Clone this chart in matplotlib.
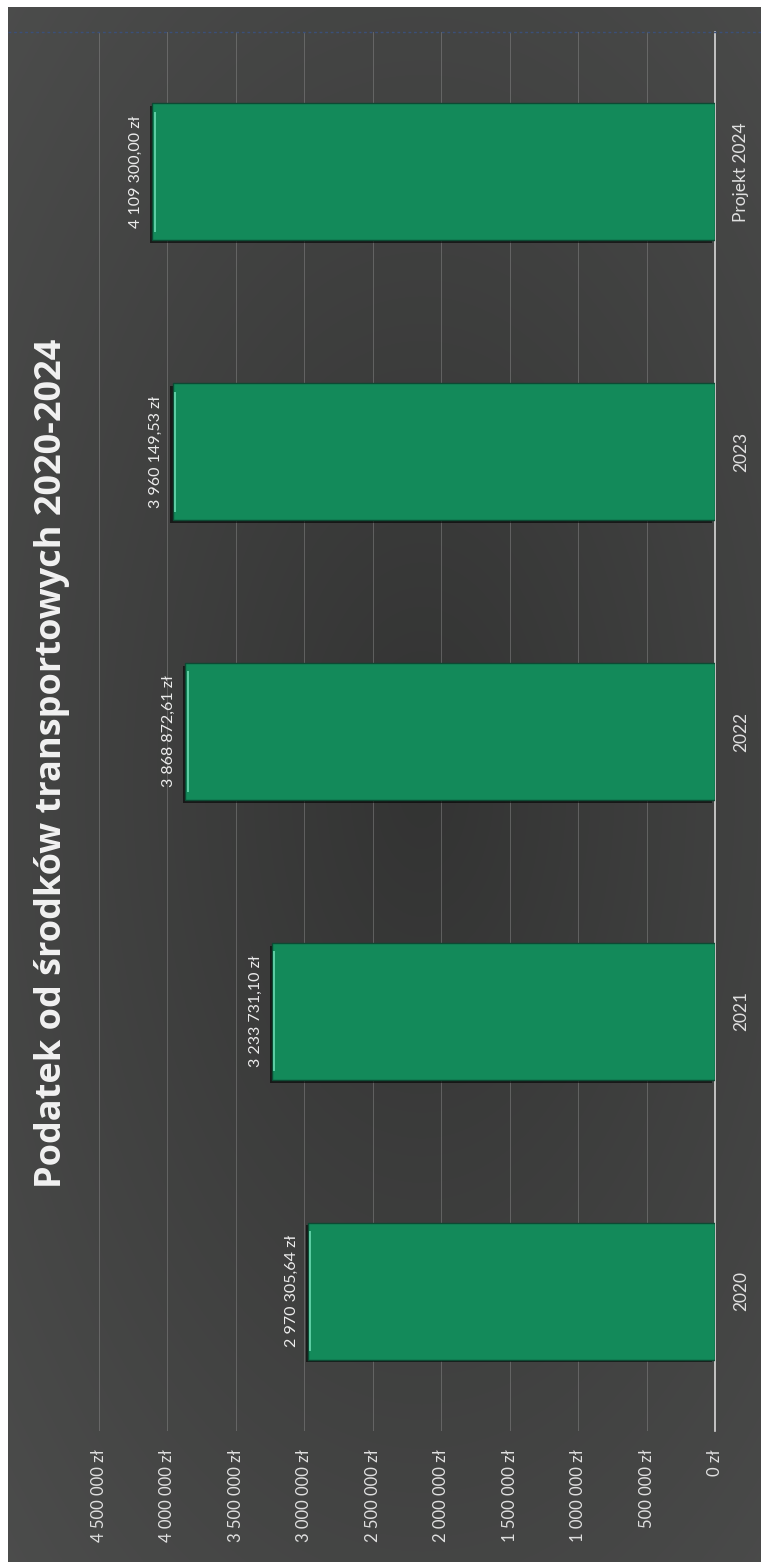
import numpy as np
import matplotlib
matplotlib.use("Agg")
import matplotlib.pyplot as plt
from matplotlib import patheffects
from matplotlib.lines import Line2D


# -----------------------------------------------------------
# Data
# -----------------------------------------------------------

categories = ["2020", "2021", "2022", "2023", "Projekt 2024"]
values = [2970305.64, 3233731.10, 3868872.61, 3960149.53, 4109300.00]
value_ticks = [0, 500000, 1000000, 1500000, 2000000, 2500000,
               3000000, 3500000, 4000000, 4500000]

title = "Podatek od środków transportowych 2020-2024"


# -----------------------------------------------------------
# Helpers
# -----------------------------------------------------------

def pl_money(v, decimals=2):
    s = f"{v:,.{decimals}f}"
    s = s.replace(",", " ").replace(".", ",")
    return s + " zł"


# -----------------------------------------------------------
# Plot
# -----------------------------------------------------------

plt.rcParams['font.family'] = ['Lato', 'DejaVu Sans']

W, H = 761, 1565
fig = plt.figure(figsize=(W / 100, H / 100), dpi=100, facecolor="white")

# dark background with soft gradient
bg = fig.add_axes([8 / W, 3 / H, 1 - 8 / W, 1 - 10 / H])
gy, gx = np.mgrid[0:1:800j, 0:1:400j]
dist = np.sqrt(((gx - 0.55) / 0.9) ** 2 + ((gy - 0.5) / 0.8) ** 2)
shade = 0.20 + 0.11 * np.clip(dist, 0, 1)
rgb = np.dstack([shade, shade * 1.01, shade * 1.0])
bg.imshow(np.clip(rgb, 0, 1), aspect="auto", extent=[0, 1, 0, 1],
          interpolation="bilinear")
bg.set_axis_off()

# main axes (chart is drawn rotated: values grow to the left)
left, right = 99 / W, 715 / W
top, bottom = 1 - 32 / H, 1 - 1431 / H
ax = fig.add_axes([left, bottom, right - left, top - bottom])
ax.patch.set_alpha(0)

y = np.arange(len(categories))
bar_h = 0.49

bars = ax.barh(y, values, height=bar_h, color="#138a5a",
               edgecolor="#0c4a33", linewidth=1.0, zorder=3)
for b in bars:
    b.set_path_effects([
        patheffects.SimplePatchShadow(offset=(-2, -2), shadow_rgbFace="black",
                                      alpha=0.6),
        patheffects.Normal(),
    ])

# bevel highlight on the bar end
for yi, v in zip(y, values):
    ax.plot([v * 0.996, v * 0.996], [yi - bar_h / 2 + 0.03, yi + bar_h / 2 - 0.03],
            color="#5fcfa6", lw=1.4, zorder=4, solid_capstyle="butt")

# data labels
for yi, v in zip(y, values):
    ax.annotate(pl_money(v), (v, yi), xytext=(-7, 0),
                textcoords="offset points", rotation=90,
                ha="right", va="center", fontsize=11.5, color="#ececec")

ax.set_xlim(4500000, 0)
ax.set_ylim(-0.5, len(categories) - 0.5)

ax.set_xticks(value_ticks)
ax.set_xticklabels([pl_money(t, 0) for t in value_ticks], rotation=90,
                   fontsize=12, color="#e0e0e0")
ax.tick_params(axis="x", length=0, pad=13)

ax.yaxis.tick_right()
ax.set_yticks(y)
ax.set_yticklabels(categories, rotation=90, va="center",
                   fontsize=12.5, color="#e0e0e0")
ax.tick_params(axis="y", length=0, pad=13)

ax.grid(axis="x", color="#8a8a8a", lw=0.7, alpha=0.5, zorder=0)

for side in ["left", "top", "bottom"]:
    ax.spines[side].set_visible(False)
ax.spines["right"].set_color("#d8d8d8")
ax.spines["right"].set_linewidth(1.2)

# faint dotted line across the top
fig.add_artist(Line2D([8 / W, 1], [top, top], transform=fig.transFigure,
                      color="#3b5079", lw=1.0, ls=(0, (2, 2))))

fig.text(52 / W, 1 - 763 / H, title, rotation=90, ha="center", va="center",
         fontsize=26, fontweight="bold", color="#f2f2f2",
         family=["Open Sans", "DejaVu Sans"])

fig.savefig("out.png", dpi=100, facecolor=fig.get_facecolor())
